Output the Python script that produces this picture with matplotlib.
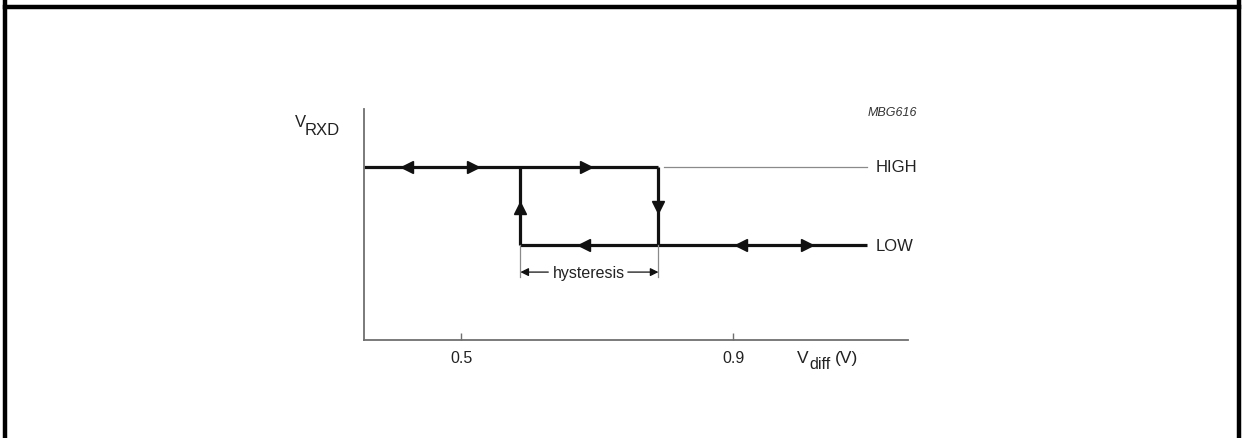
import matplotlib
matplotlib.use('Agg')
import matplotlib.pyplot as plt
from matplotlib.lines import Line2D

plt.rcParams['font.family'] = ['Liberation Sans', 'DejaVu Sans']

W, H = 1244, 439

# thresholds and levels (V_diff in volts, output level in relative units)
x_min, x_max = 0.357, 1.157
x_end = 1.097
th_low = 0.587    # LOW -> HIGH threshold
th_high = 0.79    # HIGH -> LOW threshold
high = 0.75
low = 0.41
ticks = [0.5, 0.9]
tick_labels = ['0.5', '0.9']

# direction markers along the curve
high_left = [0.42]
high_right = [0.518, 0.683]
low_left = [0.68, 0.912]
low_right = [1.009]
up_arrow_y = 0.57
down_arrow_y = 0.575
hyst_y = 0.294

dark = '#111111'
grey = '#8a8a8a'
txt = '#222222'


def px(x, y):
    # pixel position (from top-left) -> figure fraction
    return x / W, 1 - y / H


fig = plt.figure(figsize=(W / 100, H / 100), dpi=100)

# page frame
fig.add_artist(Line2D([5/W, 5/W], [0, 1], transform=fig.transFigure, color='black', lw=3.2))
fig.add_artist(Line2D([1239/W, 1239/W], [0, 1], transform=fig.transFigure, color='black', lw=3.2))
fig.add_artist(Line2D([5/W, 1239/W], [1 - 8/H, 1 - 8/H], transform=fig.transFigure, color='black', lw=3.2))

ax = fig.add_axes([364/W, (H-341)/H, (908-364)/W, (341-110)/H])
ax.set_xlim(x_min, x_max)
ax.set_ylim(0, 1)
for s in ['top', 'right']:
    ax.spines[s].set_visible(False)
for s in ['left', 'bottom']:
    ax.spines[s].set_color('#6f6f6f')
    ax.spines[s].set_linewidth(1.3)
ax.set_yticks([])
ax.set_xticks(ticks)
ax.set_xticklabels(tick_labels, fontsize=11.5, color=txt)
ax.tick_params(axis='x', direction='in', length=5, color='#6f6f6f', width=1, pad=7)

# hysteresis loop
lw = 2.3
ax.plot([x_min, th_high], [high, high], color=dark, lw=lw, solid_capstyle='butt', clip_on=False)
ax.plot([th_high + 0.008, x_end], [high, high], color=grey, lw=0.9)
ax.plot([th_low, th_low], [high, low], color=dark, lw=lw, solid_capstyle='butt')
ax.plot([th_high, th_high], [high, low], color=dark, lw=lw, solid_capstyle='butt')
ax.plot([th_low, x_end], [low, low], color=dark, lw=lw, solid_capstyle='butt')

ms = 8
ax.plot(high_left, [high] * len(high_left), '<', color=dark, ms=ms)
ax.plot(high_right, [high] * len(high_right), '>', color=dark, ms=ms)
ax.plot(low_left, [low] * len(low_left), '<', color=dark, ms=ms)
ax.plot(low_right, [low] * len(low_right), '>', color=dark, ms=ms)
ax.plot([th_low], [up_arrow_y], '^', color=dark, ms=ms)
ax.plot([th_high], [down_arrow_y], 'v', color=dark, ms=ms)

ax.text(x_end + 0.012, high, 'HIGH', fontsize=12, va='center', ha='left', color=txt)
ax.text(x_end + 0.012, low, 'LOW', fontsize=12, va='center', ha='left', color=txt)

# hysteresis dimension
ax.plot([th_low, th_low], [low, hyst_y - 0.02], color=grey, lw=0.9)
ax.plot([th_high, th_high], [low, hyst_y - 0.02], color=grey, lw=0.9)
mid = (th_low + th_high) / 2
ax.text(mid, hyst_y, 'hysteresis', fontsize=11.5, ha='center', va='center', color=txt)
ax.annotate('', xy=(th_low, hyst_y), xytext=(th_low + 0.041, hyst_y),
            arrowprops=dict(arrowstyle='-|>', color=dark, lw=0.9, mutation_scale=12, shrinkA=0, shrinkB=0))
ax.annotate('', xy=(th_high, hyst_y), xytext=(th_high - 0.045, hyst_y),
            arrowprops=dict(arrowstyle='-|>', color=dark, lw=0.9, mutation_scale=12, shrinkA=0, shrinkB=0))

# axis labels
fig.text(*px(295, 127), 'V', fontsize=12, ha='left', va='baseline', color=txt)
fig.text(*px(305, 135), 'RXD', fontsize=12, ha='left', va='baseline', color=txt)
fig.text(*px(797, 363), 'V', fontsize=12.5, ha='left', va='baseline', color=txt)
fig.text(*px(809, 369), 'diff', fontsize=11.5, ha='left', va='baseline', color=txt)
fig.text(*px(835, 363), '(V)', fontsize=12.5, ha='left', va='baseline', color=txt)
fig.text(*px(892, 113), 'MBG616', fontsize=9, style='italic', ha='center', va='center', color='#333333')

fig.savefig('out.png', dpi=100)
